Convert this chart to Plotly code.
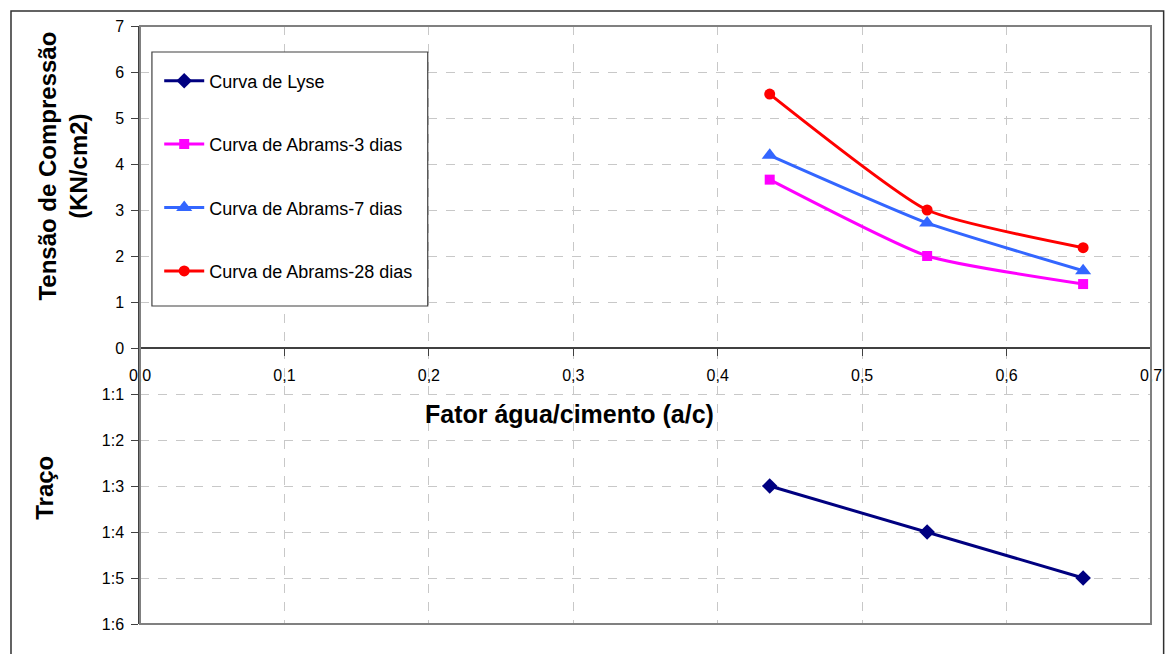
import plotly.graph_objects as go

# ---- data ----
ac = [0.436, 0.545, 0.653]
lyse = [-3, -4, -5]            # traço 1:3, 1:4, 1:5 drawn below zero
abrams_3 = [3.66, 2.00, 1.39]
abrams_7 = [4.19, 2.72, 1.68]
abrams_28 = [5.52, 3.00, 2.18]

names = ["Curva de Lyse", "Curva de Abrams-3 dias", "Curva de Abrams-7 dias", "Curva de Abrams-28 dias"]
y_tickvals = [-6, -5, -4, -3, -2, -1, 0, 1, 2, 3, 4, 5, 6, 7]
y_ticktext = ["1:6", "1:5", "1:4", "1:3", "1:2", "1:1", "0", "1", "2", "3", "4", "5", "6", "7"]
x_tickvals = [0.0, 0.1, 0.2, 0.3, 0.4, 0.5, 0.6, 0.7]

FONT = "Liberation Sans, Arial, sans-serif"

fig = go.Figure()
series = [
    (lyse, "#000080", "diamond", 12, "linear"),
    (abrams_3, "#FF00FF", "square", 10, "spline"),
    (abrams_7, "#3366FF", "triangle-up", 14, "spline"),
    (abrams_28, "#FF0000", "circle", 11, "spline"),
]
for i, (vals, col, sym, size, shape) in enumerate(series):
    fig.add_trace(go.Scatter(
        x=ac, y=vals, name=names[i], mode="lines+markers",
        legendgroup=f"g{i}",
        line=dict(color=col, width=3, shape=shape, smoothing=0.5),
        marker=dict(color=col, symbol=sym, size=size),
    ))

ymin, ymax = -6, 7
zero_frac = (0 - ymin) / (ymax - ymin)

fig.update_layout(
    width=1174, height=654,
    margin=dict(l=140, r=15, t=26, b=30),
    paper_bgcolor="white", plot_bgcolor="white",
    separators=",.",
    font=dict(family=FONT, size=16, color="black"),
    showlegend=True,
    legend=dict(
        x=0.019, y=0.939, xanchor="left", yanchor="top",
        bgcolor="rgba(0,0,0,0)", borderwidth=0,
        font=dict(family=FONT, size=18, color="black"),
        tracegroupgap=37, itemwidth=40,
    ),
    xaxis=dict(
        range=[0, 0.7], tickvals=x_tickvals, tickformat=".1f",
        anchor="free", position=zero_frac,
        showline=True, linecolor="#404040", linewidth=1.5,
        ticks="outside", ticklen=7, tickcolor="#404040",
        ticklabelstandoff=6,
        showgrid=True, gridcolor="#C8C8C8", griddash="dash", gridwidth=1,
        zeroline=False, tickfont=dict(size=16),
    ),
    yaxis=dict(
        range=[ymin, ymax], tickvals=y_tickvals, ticktext=y_ticktext,
        showline=True, linecolor="#404040", linewidth=1.5,
        ticks="outside", ticklen=7, tickcolor="#404040",
        ticklabelstandoff=4,
        showgrid=True, gridcolor="#C8C8C8", griddash="dash", gridwidth=1,
        zeroline=False, tickfont=dict(size=16),
    ),
    shapes=[
        # plot-area border
        dict(type="rect", xref="paper", yref="paper", x0=0, x1=1, y0=0, y1=1,
             line=dict(color="#808080", width=2), layer="above"),
        # legend frame
        dict(type="rect", xref="paper", yref="paper",
             x0=0.0118, x1=0.2846, y0=0.5318, y1=0.9565,
             fillcolor="white", line=dict(color="#404040", width=1.2), layer="above"),
        # outer chart border
        dict(type="rect", xref="paper", yref="paper",
             x0=-0.1276, x1=1.0125, y0=-0.08, y1=1.025,
             line=dict(color="#303030", width=1.5)),
    ],
    annotations=[
        dict(text="<b>Tensão de Compressão<br>(KN/cm2)</b>", xref="paper", yref="paper",
             x=-0.0765, y=0.766, xanchor="center", yanchor="middle", textangle=-90,
             showarrow=False, font=dict(size=24, family=FONT), align="center"),
        dict(text="<b>Traço</b>", xref="paper", yref="paper",
             x=-0.0952, y=0.2274, xanchor="center", yanchor="middle", textangle=-90,
             showarrow=False, font=dict(size=24, family=FONT)),
        dict(text="<b>Fator água/cimento (a/c)</b>", xref="paper", yref="paper",
             x=0.425, y=0.351, xanchor="center", yanchor="middle",
             showarrow=False, font=dict(size=25, family=FONT)),
    ],
)

fig.write_html("out.html")
